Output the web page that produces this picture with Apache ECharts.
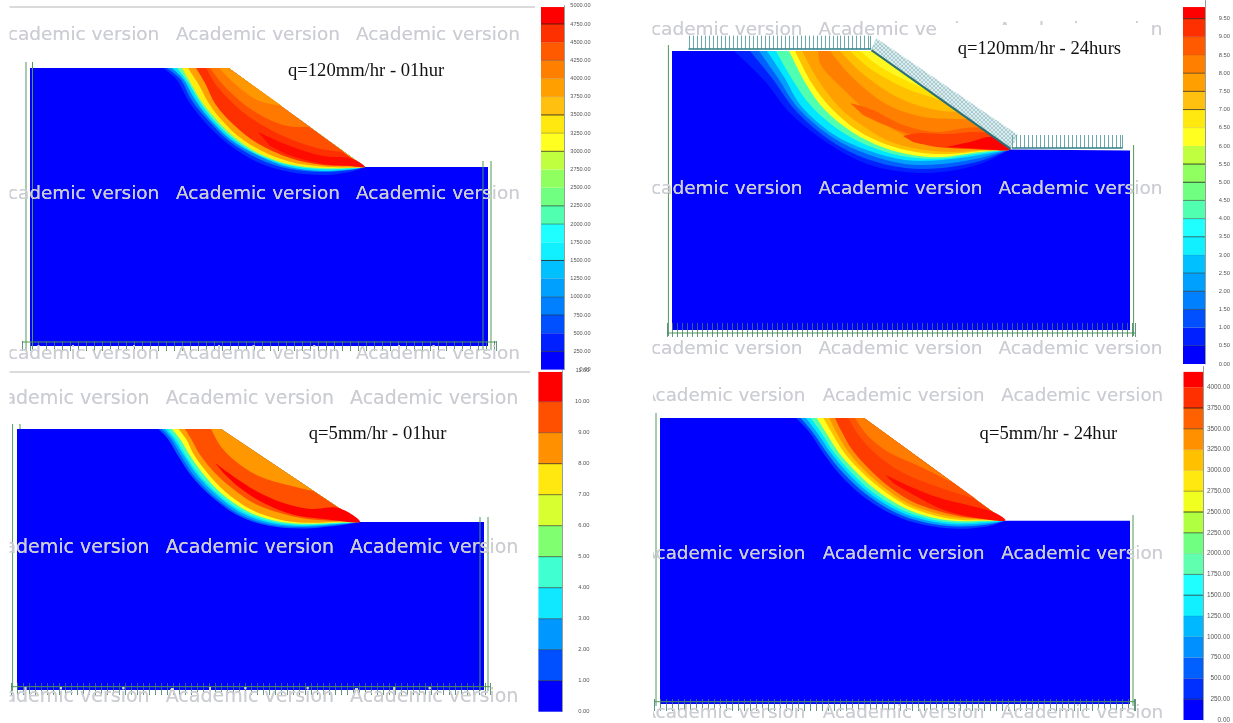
<!DOCTYPE html>
<html>
<head>
<meta charset="utf-8">
<title>Slope seepage contours</title>
<style>
html,body{margin:0;padding:0;background:#fff;overflow:hidden}
#chart{width:1233px;height:723px;filter:blur(0.5px)}
</style>
<script src="https://cdn.jsdelivr.net/npm/echarts@6/dist/echarts.min.js"></script>
</head>
<body>
<div id="chart"></div>
<script>
// ---- Panel captions and watermark ----
const captions = ['q=120mm/hr - 01hur', 'q=120mm/hr - 24hurs', 'q=5mm/hr - 01hur', 'q=5mm/hr - 24hur'];
const watermark = 'Academic version';

// ---- Panel 1: q=120mm/hr - 01hur (model outline and contour bands) ----
const panel1Ground = [[0,0],[198.5,0],[335,99],[458,99],[458,278],[0,278]];
const panel1Colors = ['#0030ff','#0080ff','#00e0ff','#60ffa0','#ffee10','#ffa000','#ff3000','#ff5000','#ff7800','#ff9800','#ff0c00'];
const panel1Contours = [
  [[133,0],[147,12],[158,32],[173,52],[197,75],[227,94],[260,104],[293,107],[320,104],[335,99]],
  [[137,0],[151,12],[161,31],[176,50],[199,73],[229,91],[260,101],[293,104],[320,102],[335,99]],
  [[142,0],[154,12],[164,30],[178,49],[200,71],[229,88],[259,99],[291,103],[320,101.5],[335,99]],
  [[147,0],[158,14],[168,31],[181,49],[201,69],[227,86],[258,97],[290,101],[320,100.5],[335,99]],
  [[152,0],[163,19],[172,34],[185,50],[203,68],[228,85],[258,96],[290,100],[320,100],[335,99]],
  [[158,0],[169,17],[178,34],[190,50],[208,68],[232,83],[261,94],[292,98.5],[320,99.5],[335,99]],
  [[166,0],[175,15],[186,37],[204,57],[227,75],[260,90],[293,97],[333,98.5]],
  [[176,0],[190,22],[218,48],[253,68],[287,80],[314,84]],
  [[180,0],[196,20],[222,42],[253,57],[280,59]],
  [[189,0],[205,16],[227,32],[252,38]],
  [[228,64],[260,78],[293,88],[320,90],[335,99],[320,98],[293,96],[262,88],[240,78]]
];

// ---- Panel 2: q=120mm/hr - 24hurs ----
const panel2Ground = [[0,0],[199.5,0],[338.6,98.5],[458,99.5],[458,279],[0,279]];
const panel2Colors = ['#0020ff','#0060ff','#00a0ff','#00e8ff','#50ffb0','#ffff20','#ffc000','#ffa000','#ff8000','#ffa000','#ffc000','#ffe000','#fff820','#ff6000','#ff4000','#ff0000'];
const panel2Contours = [
  [[62,0],[92,29],[119,63],[157,93],[195,113],[233,121],[270,121],[308,113],[338,98.5]],
  [[78,0],[100,27],[124,60],[159,90],[195,108],[233,117],[270,117],[308,110],[338,98.5]],
  [[87,0],[106,27],[127,58],[160,86],[195,103],[233,113],[270,113],[308,107],[338,98.5]],
  [[95,0],[112,26],[130,56],[161,83],[195,99],[233,109],[270,109],[308,104],[338,98.5]],
  [[104,0],[120,28],[140,56],[170,81],[202,97],[236,106],[270,107.5],[308,102.5],[338,98.5]],
  [[117,0],[134,33],[153,59],[180,81],[210,96],[240,104],[270,106],[308,101],[338,98.5]],
  [[123,0],[139,31],[159,57],[185,79],[213,93],[244,101],[276,103],[314,99.5],[338,98.5]],
  [[130,0],[146,29],[167,56],[191,75],[219,91],[250,98.5],[282,101],[320,98],[338,98.5]],
  [[146,0],[150,16],[172,39],[202,66],[236,86],[270,96],[308,96],[338,98.5]],
  [[158,0],[180,26],[214,53],[252,66],[295,68]],
  [[168,0],[191,23],[225,46],[259,58],[285,61]],
  [[178,0],[200,19],[233,37],[259,46],[272,51]],
  [[188,0],[210,17],[235,30],[255,39]],
  [[178,52],[201,59],[231,74],[265,81],[308,77],[338,98.5],[305,94],[258,89],[218,76],[191,64]],
  [[231,85],[248,82],[275,83],[315,82],[338,98.5],[298,98],[265,96],[241,91]],
  [[275,96],[298,91],[321,86],[338,98.5],[311,98]]
];
const panel2SlopeLoad = [[199.5,-2.7],[204.4,-12.7],[346,84],[338.6,98.3]];

// ---- Panel 3: q=5mm/hr - 01hur ----
const panel3Ground = [[0,0],[204,0],[343,93],[467,93],[467,261],[0,261]];
const panel3Colors = ['#0060ff','#00a0ff','#00e8ff','#40ffc0','#ffff20','#ffa000','#ff5000','#ff9800','#ff0000'];
const panel3Contours = [
  [[141.5,0],[151.5,10.7],[161.5,27.4],[175,47.4],[195,68],[221.5,86.7],[251.5,96.7],[285,99.4],[320,96.7],[343,93]],
  [[145,0],[154.5,10.7],[164,26.7],[177,46.4],[196.5,66.7],[223,85.4],[252.5,95.4],[285,98],[320,95.7],[343,93]],
  [[148,0],[157,10.7],[166.5,26],[180,45.7],[199,65.4],[225,84],[254,94],[285,97],[320,95],[343,93]],
  [[150.5,0],[160,11.4],[169,26.7],[182.5,46],[201.5,65.4],[226.5,82.7],[255,92.7],[285,96],[320,94.4],[343,93]],
  [[155,0],[164,11.4],[172.5,25.7],[186,44.7],[204,64],[229,81.4],[257,91.4],[285,94.7],[320,93.7],[343,93]],
  [[161.5,0],[170,11.4],[177,25.7],[190,43.4],[208,62.4],[233,80],[260,90],[286.5,93.7],[320,92.9],[343,93]],
  [[168,0],[175,11.4],[183,25.7],[196.5,42.4],[213,57.4],[236.5,74],[263,84],[290,90],[320,92],[343,93]],
  [[194,0],[205,19],[223,35.7],[246.5,49],[276.5,57.4],[296.5,62]],
  [[198,34],[216.5,47.4],[240,62.4],[266.5,74],[293,80],[321.5,79],[343,93],[313,90.7],[276.5,85.7],[246.5,74],[223,59],[206.5,44]]
];

// ---- Panel 4: q=5mm/hr - 24hur ----
const panel4Ground = [[0,0],[204,0],[345,102.7],[470,102.7],[470,286],[0,286]];
const panel4Colors = ['#0040ff','#00a0ff','#00e8ff','#50ffb0','#ffff20','#ffc000','#ff9000','#ff3c00','#ff5400','#ff7c00','#ff0c00'];
const panel4Contours = [
  [[136,0],[150,15],[163.3,35],[180,56.7],[203.3,78.4],[233.3,96.7],[263.3,106.7],[296.7,110.7],[326.7,108.4],[345,102.7]],
  [[140.7,0],[153.3,15],[166.7,34.4],[183.3,55],[206,76],[235.3,94.4],[265,104.4],[296.7,108.4],[326.7,106.7],[345,102.7]],
  [[146,0],[158,15.7],[170.7,34.4],[186.7,53.7],[208.7,74.4],[237.3,92.4],[266.7,102.4],[296.7,106.4],[326.7,105],[345,102.7]],
  [[150.7,0],[162,15.7],[174,34.4],[190,53],[211.3,73],[239.3,90.7],[268.3,100.7],[296.7,104.7],[326.7,103.7],[345,102.7]],
  [[156.7,0],[166.7,15.7],[178.7,34.4],[194,51.7],[214.7,71],[242,88.7],[270,99],[296.7,103],[326.7,102.7],[345,102.7]],
  [[163.3,0],[172,15],[183.3,33.4],[198.7,51],[218.7,69],[245,86.7],[272.7,97],[298.3,101.7],[326.7,102.2],[345,102.7]],
  [[169.3,0],[176.7,15],[187.3,32.4],[202,49.7],[222,67.7],[247.3,85],[274.7,95],[300,100],[326.7,101.6],[345,102.7]],
  [[175,0],[181.7,13.7],[191.7,31],[206,47.7],[225.3,65.7],[250,82.4],[277.3,92.7],[301.7,98.4],[326.7,101],[345,102.7]],
  [[188.3,0],[198.3,16.7],[216.7,36.7],[243.3,55],[276.7,68.4],[316,81]],
  [[195,0],[208.3,18.4],[230,35],[260,48.4],[293.3,65]],
  [[225,56.7],[250,68.4],[280,80],[313.3,88.4],[333.3,94],[345,102.7],[316.7,100],[283.3,91.7],[253.3,76.7],[233.3,65]]
];

// ---- Boundary-condition lines: [x1, y1, x2, y2] in each panel's model units ----
const panel1Bc = [[-4,-6,-4,283],[2.5,-6,2.5,282],[453,93,453,282],[461,93,461,282],[-8,274,466,274]];
const panel2Bc = [[-3.6,-6,-3.6,285],[461.6,94,461.6,285],[-5,282,463,282]];
const panel3Bc = [[-4.4,-5,-4.4,262],[3,-5,3,0],[463,88,463,262],[471,88,471,262],[-6,257.7,473,257.7]];
const panel4Bc = [[-4,-5,-4,288],[473,97,473,288],[-6,283.7,475,283.7]];

// ---- Colour bars, low to high ----
const bar1Colors = ['#0000ff','#0020ff','#0050ff','#0080ff','#00a0ff','#00c0ff','#10f0ff','#20ffff','#50ffb0','#70ff80','#90ff60','#c0ff40','#ffff20','#ffe810','#ffc010','#ffa000','#ff8000','#ff5a00','#ff3000','#ff0000'];
const bar1Lines = [.6,.1,.5,.4,.1,.8,0,.4,.6,0,0,.7,.3,.8,.1,.1,.3,.1,.7,0];
const bar2Colors = bar1Colors;
const bar2Lines = [.4,.1,.5,.6,.5,.1,.6,.4,.5,.8,.8,0,.1,.7,.7,.6,.1,.1,.7,0];
const bar3Colors = ['#0000ff','#0050ff','#0098ff','#10e8ff','#40ffd0','#80ff70','#d8ff30','#ffe810','#ff9000','#ff5000','#ff0000'];
const bar3Lines = [.6,.5,.5,.6,.6,.6,.6,.7,.4,.3,0];
const bar4Colors = ['#0000ff','#0030ff','#0060ff','#0090ff','#00b8ff','#10f0ff','#20ffff','#60ffb0','#70ff80','#b0ff40','#f0ff20','#ffe810','#ffc000','#ff9000','#ff6000','#ff3000','#ff0000'];
const bar4Lines = [.5,.2,.1,.1,.1,.7,.5,.1,.6,.8,.4,.1,.1,.5,.8,0,0];

// ---- Layout ----
const panels = [
  {ground:panel1Ground, colors:panel1Colors, contours:panel1Contours, bc:panel1Bc, left:22, right:496, top:62, bottom:351, x:[-8,466], y:[-6,283], step:8, tick:10},
  {ground:panel2Ground, colors:panel2Colors, contours:panel2Contours, bc:panel2Bc, left:667, right:1135, top:45, bottom:337, x:[-5,463], y:[-6,286], step:5, tick:14},
  {ground:panel3Ground, colors:panel3Colors, contours:panel3Contours, bc:panel3Bc, left:11, right:490, top:424, bottom:695, x:[-6,473], y:[-5,266], step:6, tick:12},
  {ground:panel4Ground, colors:panel4Colors, contours:panel4Contours, bc:panel4Bc, left:654, right:1135, top:413, bottom:711, x:[-6,475], y:[-5,293], step:6, tick:12}
];
const bars = [
  {colors:bar1Colors, lines:bar1Lines, step:250, max:5000, topVal:4983, left:541, right:564.5, top:5.8, bottom:369.6, font:5.6, margin:26, align:'right', hide:[]},
  {colors:bar2Colors, lines:bar2Lines, step:0.5, max:10, topVal:9.82, left:1183, right:1206.6, top:0.5, bottom:364, font:5.8, margin:13.4, align:'left', hide:[10]},
  {colors:bar3Colors, lines:bar3Lines, step:1, max:11, topVal:10.96, left:538.4, right:562.5, top:370.7, bottom:711.7, font:5.8, margin:27, align:'right', hide:[]},
  {colors:bar4Colors, lines:bar4Lines, step:250, max:4250, topVal:4184, left:1183.5, right:1206.6, top:366.4, bottom:728, font:6.4, margin:26.4, align:'right', hide:[4250]}
];

const grid = [], xAxis = [], yAxis = [], series = [];
const W = 1233, H = 723;

function smoothPath(pts) {
  let d = 'M' + pts[0][0] + ' ' + pts[0][1];
  for (let i = 0; i < pts.length - 1; i++) {
    const p0 = pts[Math.max(i - 1, 0)], p1 = pts[i], p2 = pts[i + 1], p3 = pts[Math.min(i + 2, pts.length - 1)];
    d += 'C' + (p1[0] + (p2[0] - p0[0]) / 6) + ' ' + (p1[1] + (p2[1] - p0[1]) / 6) + ' ' +
      (p2[0] - (p3[0] - p1[0]) / 6) + ' ' + (p2[1] - (p3[1] - p1[1]) / 6) + ' ' + p2[0] + ' ' + p2[1];
  }
  return d;
}
function polySeries(idx, pts, fill, smoothed, closeAt, z) {
  series.push({
    type: 'custom', coordinateSystem: 'cartesian2d', xAxisIndex: idx, yAxisIndex: idx,
    data: pts, encode: {x: 0, y: 1}, clip: false, silent: true, animation: false, z: z || 2,
    renderItem(params, api) {
      if (params.dataIndex !== 0) return null;
      const c = pts.map(p => api.coord(p));
      let d;
      if (smoothed) d = smoothPath(c);
      else d = 'M' + c.map(p => p[0] + ' ' + p[1]).join('L');
      if (closeAt) { const e = api.coord(closeAt); d += 'L' + e[0] + ' ' + e[1]; }
      d += 'Z';
      return {type: 'path', shape: {pathData: d}, style: {fill: fill}};
    }
  });
}
function lineSeries(idx, a, color, width, z) {
  series.push({
    type: 'line', xAxisIndex: idx, yAxisIndex: idx, data: a, symbol: 'none', clip: false, silent: true,
    animation: false, z: z || 3, lineStyle: {color: color, width: width}
  });
}

panels.forEach((p, i) => {
  grid.push({left: p.left, width: p.right - p.left, top: p.top, height: p.bottom - p.top});
  xAxis.push({
    gridIndex: i, type: 'value', min: p.x[0], max: p.x[1], interval: p.step, position: 'bottom', z: 4,
    axisLine: {show: false, onZero: false}, axisLabel: {show: false}, splitLine: {show: false},
    axisTick: {show: true, inside: true, length: p.tick, lineStyle: {color: '#3f7a62', width: 1, opacity: 0.8}}
  });
  yAxis.push({gridIndex: i, type: 'value', min: p.y[0], max: p.y[1], inverse: true, show: false});
  polySeries(i, p.ground, '#0000ff', false, null);
  const crest = p.ground[1];
  p.contours.forEach((pts, k) => polySeries(i, pts, p.colors[k], true, pts[0][1] === 0 ? crest : null));
  p.bc.forEach(b => lineSeries(i, [[b[0], b[1]], [b[2], b[3]]], '#4f9a5a', 1));
});

// Colour bars
bars.forEach((b, n) => {
  const i = grid.length;
  grid.push({left: b.left, width: b.right - b.left, top: b.top, height: b.bottom - b.top});
  xAxis.push({gridIndex: i, type: 'value', min: 0, max: 1, show: false});
  yAxis.push({
    gridIndex: i, type: 'value', position: 'right', min: 0, max: b.max, interval: b.step, z: 4,
    splitLine: {show: false}, axisTick: {show: false},
    axisLine: {show: true, onZero: false, lineStyle: {color: '#93a093', width: 1}},
    axisLabel: {
      show: true, margin: b.margin, align: b.align, fontSize: b.font, color: '#555', fontFamily: 'Liberation Sans',
      formatter: v => (b.hide.indexOf(v) >= 0 ? '' : v.toFixed(2))
    }
  });
  const data = b.colors.map((c, k) => [k * b.step, Math.min((k + 1) * b.step, b.topVal), b.lines[k], k]);
  series.push({
    type: 'custom', coordinateSystem: 'cartesian2d', xAxisIndex: i, yAxisIndex: i, data: data,
    encode: {y: [0, 1]}, clip: false, silent: true, animation: false,
    renderItem(params, api) {
      const lo = api.coord([0, api.value(0)]), hi = api.coord([1, api.value(1)]);
      return {type: 'group', children: [
        {type: 'rect', shape: {x: lo[0], y: hi[1], width: hi[0] - lo[0], height: lo[1] - hi[1]},
         style: {fill: b.colors[api.value(3)]}},
        {type: 'line', shape: {x1: lo[0], y1: hi[1], x2: hi[0], y2: hi[1]},
         style: {stroke: '#1a1a1a', lineWidth: 1, opacity: api.value(2)}, z2: 2}
      ]};
    }
  });
});

// Applied-flux hatching of panel 2: vertical arrows drawn as axis split lines
[[689, 870.7, 35.7, 49, 182], [1012.5, 1122, 135, 148, 110]].forEach(g => {
  const i = grid.length;
  grid.push({left: g[0], width: g[1] - g[0], top: g[2], height: g[3] - g[2]});
  xAxis.push({
    gridIndex: i, type: 'value', min: 0, max: g[4], interval: 4, z: 4, position: 'bottom',
    axisLine: {show: true, onZero: false, lineStyle: {color: '#2f7f85', width: 1.5}}, axisTick: {show: false}, axisLabel: {show: false},
    splitLine: {show: true, lineStyle: {color: '#6aa9ab', width: 1}}
  });
  yAxis.push({gridIndex: i, type: 'value', min: 0, max: 1, show: false});
});

const hatch = document.createElement('canvas');
hatch.width = hatch.height = 4;
const hc = hatch.getContext('2d');
hc.fillStyle = '#dcecee'; hc.fillRect(0, 0, 4, 4);
hc.strokeStyle = '#9cc4c8'; hc.lineWidth = 0.8;
hc.beginPath(); hc.moveTo(0, 4); hc.lineTo(4, 0); hc.moveTo(0, 0); hc.lineTo(4, 4); hc.stroke();
polySeries(1, panel2SlopeLoad, {image: hatch, repeat: 'repeat'}, false, null, 3);
lineSeries(1, [[199.5, -0.8], [338.6, 97.8]], '#2a7076', 2.2, 4);

// Watermark: pale over the model, grey behind everything on the white paper
const graphic = [];
const wm = [
  {size: 18.5, cols: [-4.6, 176, 356], rows: [35.3, 194.3, 354]},
  {size: 18.5, cols: [638.6, 818.5, 998.5], rows: [30, 189.3, 349]},
  {size: 19, cols: [-18.7, 165.7, 350], rows: [399, 547.7, 697.3]},
  {size: 18.3, cols: [643.4, 822.7, 1001.2], rows: [396.7, 554.3, 713.3]}
];
wm.forEach(w => w.rows.forEach(y => w.cols.forEach(x => {
  const font = w.size + 'px "DejaVu Sans"';
  graphic.push({type: 'text', x: x, y: y, z: 5, silent: true,
    style: {text: watermark, font: font, fill: '#d6dcff', textVerticalAlign: 'middle', blend: 'source-atop'}});
  graphic.push({type: 'text', x: x, y: y, z: 7, silent: true,
    style: {text: watermark, font: font, fill: '#cdcdcd', textVerticalAlign: 'middle', blend: 'destination-over'}});
})));
// paper strips that cut the watermark, on a layer of their own
[[0, 0, 9.6, 372], [0, 372, 9.6, 351], [600, 0, 52.5, 372], [600, 372, 53, 351], [936, 25, 216, 40]].forEach(r => {
  graphic.push({type: 'rect', zlevel: 1, z: 1, silent: true, shape: {x: r[0], y: r[1], width: r[2], height: r[3]}, style: {fill: '#ffffff'}});
});
// rules above the left panels
[[9.6, 7, 535], [9.6, 372, 530]].forEach(r => {
  graphic.push({type: 'line', zlevel: 1, z: 2, silent: true, shape: {x1: r[0], y1: r[1], x2: r[2], y2: r[1]}, style: {stroke: '#b5b5b5', lineWidth: 1}});
});
[[288, 71], [957.7, 49.3], [308.8, 434.3], [979.6, 434.3]].forEach((c, i) => {
  graphic.push({type: 'text', x: c[0], y: c[1], zlevel: 1, z: 3, silent: true,
    style: {text: captions[i], font: '18.6px "Liberation Serif"', fill: '#111', textVerticalAlign: 'middle'}});
});

const chart = echarts.init(document.getElementById('chart'), null, {renderer: 'canvas', width: W, height: H});
chart.setOption({animation: false, tooltip: {show: false}, grid, xAxis, yAxis, series, graphic});
</script>
</body>
</html>
